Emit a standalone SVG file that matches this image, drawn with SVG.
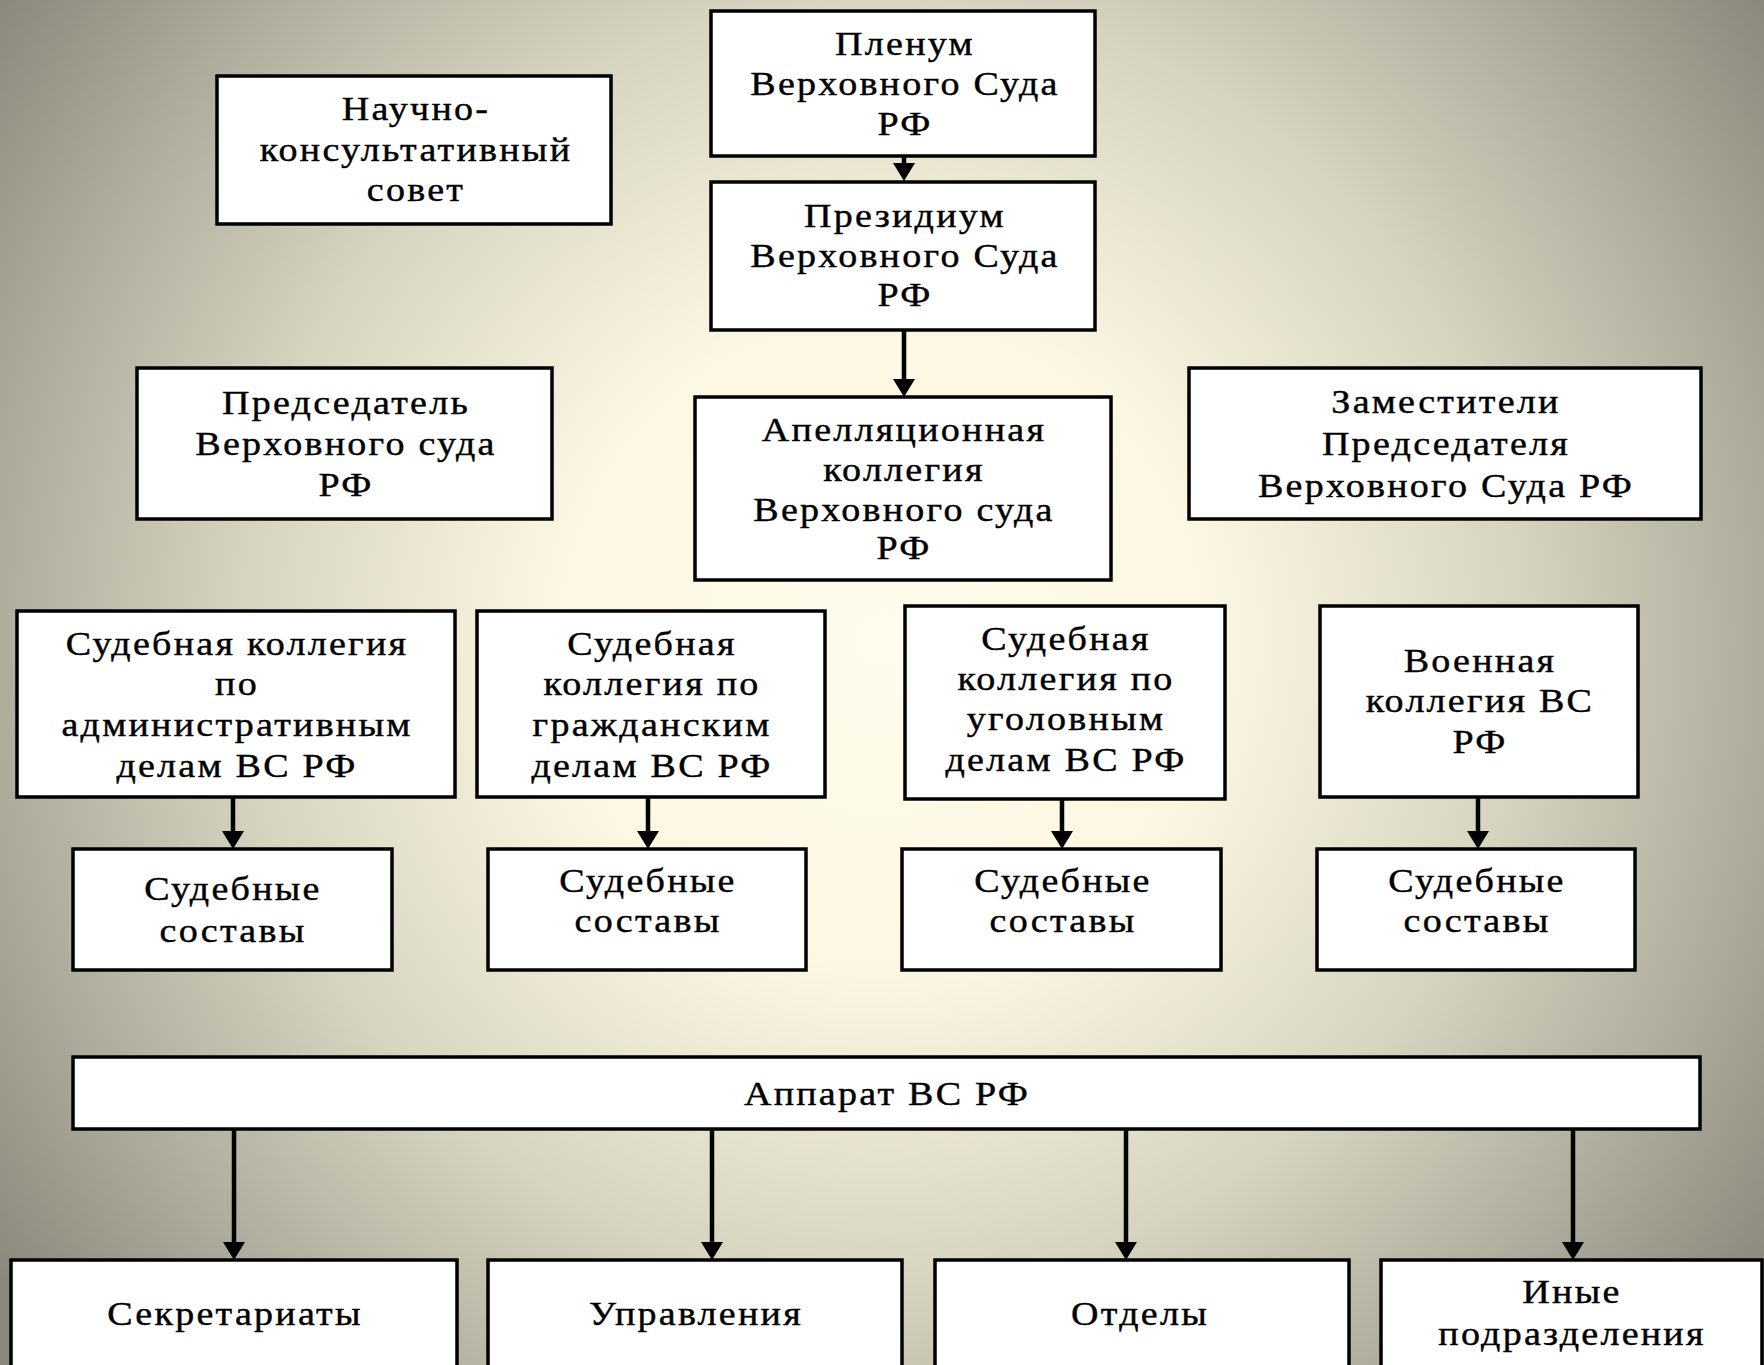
<svg xmlns="http://www.w3.org/2000/svg" width="1764" height="1365" viewBox="0 0 1764 1365">
<defs>
<radialGradient id="bg" gradientUnits="userSpaceOnUse" cx="882" cy="640" r="1090">
<stop offset="0" stop-color="#FFFCEC"/>
<stop offset="0.3" stop-color="#FBF7E2"/>
<stop offset="0.59" stop-color="#D6D3BF"/>
<stop offset="0.81" stop-color="#AEAC9C"/>
<stop offset="1" stop-color="#8A887A"/>
</radialGradient>
<marker id="arr" viewBox="0 0 18 22" refX="8" refY="11" markerWidth="18" markerHeight="22" markerUnits="userSpaceOnUse" orient="auto">
<path d="M0,0 L18,11 L0,22 z" fill="#000"/>
</marker>
</defs>
<style>
.box{fill:#fff;stroke:#000;stroke-width:3.5}
.sh{fill:none;stroke:#555;stroke-width:2;opacity:0.6}
.t{font-family:"Liberation Serif","Times New Roman",serif;font-size:34px;letter-spacing:2px;fill:#000;stroke:#000;stroke-width:0.4;text-anchor:middle}
.c{stroke:#000;stroke-width:4.5;fill:none;marker-end:url(#arr)}
</style>
<rect x="0" y="0" width="1764" height="1365" fill="url(#bg)"/>
<g id="connectors">
<line class="c" x1="904" y1="157" x2="904" y2="171"/>
<line class="c" x1="904" y1="330" x2="904" y2="387"/>
<line class="c" x1="233" y1="797" x2="233" y2="839"/>
<line class="c" x1="648" y1="797" x2="648" y2="839"/>
<line class="c" x1="1062" y1="800" x2="1062" y2="839"/>
<line class="c" x1="1478" y1="797" x2="1478" y2="839"/>
<line class="c" x1="234" y1="1129" x2="234" y2="1250"/>
<line class="c" x1="712" y1="1129" x2="712" y2="1250"/>
<line class="c" x1="1126" y1="1129" x2="1126" y2="1250"/>
<line class="c" x1="1573" y1="1129" x2="1573" y2="1250"/>
</g>
<g id="plenum"><rect class="box" x="711" y="11" width="384" height="145"/>
<g transform="translate(905 0) scale(1.12 1)"><text class="t" x="0" y="55">Пленум</text><text class="t" x="0" y="95">Верховного Суда</text><text class="t" x="0" y="135">РФ</text></g></g>
<g id="nauchno"><rect class="box" x="217" y="76" width="394" height="148"/>
<g transform="translate(416 0) scale(1.12 1)"><text class="t" x="0" y="120">Научно-</text><text class="t" x="0" y="161">консультативный</text><text class="t" x="0" y="201">совет</text></g></g>
<g id="prezidium"><rect class="box" x="711" y="182" width="384" height="148"/>
<g transform="translate(905 0) scale(1.12 1)"><text class="t" x="0" y="227">Президиум</text><text class="t" x="0" y="267">Верховного Суда</text><text class="t" x="0" y="306">РФ</text></g></g>
<g id="predsedatel"><rect class="box" x="137" y="368" width="415" height="151"/>
<g transform="translate(346 0) scale(1.12 1)"><text class="t" x="0" y="414">Председатель</text><text class="t" x="0" y="455">Верховного суда</text><text class="t" x="0" y="496">РФ</text></g></g>
<g id="apellyacionnaya"><rect class="box" x="695" y="397" width="416" height="183"/>
<g transform="translate(904 0) scale(1.12 1)"><text class="t" x="0" y="441">Апелляционная</text><text class="t" x="0" y="481">коллегия</text><text class="t" x="0" y="521">Верховного суда</text><text class="t" x="0" y="559">РФ</text></g></g>
<g id="zamestiteli"><rect class="box" x="1189" y="368" width="512" height="151"/>
<g transform="translate(1446 0) scale(1.12 1)"><text class="t" x="0" y="413">Заместители</text><text class="t" x="0" y="455">Председателя</text><text class="t" x="0" y="497">Верховного Суда РФ</text></g></g>
<g id="kollegiya-adm"><rect class="box" x="17" y="611" width="438" height="186"/>
<g transform="translate(237 0) scale(1.12 1)"><text class="t" x="0" y="655">Судебная коллегия</text><text class="t" x="0" y="695">по</text><text class="t" x="0" y="736">административным</text><text class="t" x="0" y="777">делам ВС РФ</text></g></g>
<g id="kollegiya-grazhd"><rect class="box" x="477" y="611" width="348" height="186"/>
<g transform="translate(652 0) scale(1.12 1)"><text class="t" x="0" y="655">Судебная</text><text class="t" x="0" y="695">коллегия по</text><text class="t" x="0" y="736">гражданским</text><text class="t" x="0" y="777">делам ВС РФ</text></g></g>
<g id="kollegiya-ugol"><rect class="box" x="905" y="606" width="320" height="193"/>
<g transform="translate(1066 0) scale(1.12 1)"><text class="t" x="0" y="650">Судебная</text><text class="t" x="0" y="690">коллегия по</text><text class="t" x="0" y="730">уголовным</text><text class="t" x="0" y="771">делам ВС РФ</text></g></g>
<g id="kollegiya-voen"><rect class="box" x="1320" y="606" width="318" height="191"/>
<g transform="translate(1480 0) scale(1.12 1)"><text class="t" x="0" y="672">Военная</text><text class="t" x="0" y="712">коллегия ВС</text><text class="t" x="0" y="753">РФ</text></g></g>
<g id="sostavy-1"><rect class="box" x="73" y="849" width="319" height="121"/>
<g transform="translate(233 0) scale(1.12 1)"><text class="t" x="0" y="900">Судебные</text><text class="t" x="0" y="942">составы</text></g></g>
<g id="sostavy-2"><rect class="box" x="488" y="849" width="318" height="121"/>
<g transform="translate(648 0) scale(1.12 1)"><text class="t" x="0" y="892">Судебные</text><text class="t" x="0" y="932">составы</text></g></g>
<g id="sostavy-3"><rect class="box" x="902" y="849" width="319" height="121"/>
<g transform="translate(1063 0) scale(1.12 1)"><text class="t" x="0" y="892">Судебные</text><text class="t" x="0" y="932">составы</text></g></g>
<g id="sostavy-4"><rect class="box" x="1317" y="849" width="318" height="121"/>
<g transform="translate(1477 0) scale(1.12 1)"><text class="t" x="0" y="892">Судебные</text><text class="t" x="0" y="932">составы</text></g></g>
<g id="apparat"><rect class="box" x="73" y="1057" width="1627" height="72"/>
<g transform="translate(887 0) scale(1.12 1)"><text class="t" x="0" y="1105">Аппарат ВС РФ</text></g></g>
<g id="sekretariaty"><rect class="box" x="11" y="1260" width="446" height="130"/>
<g transform="translate(235 0) scale(1.12 1)"><text class="t" x="0" y="1325">Секретариаты</text></g></g>
<g id="upravleniya"><rect class="box" x="488" y="1260" width="414" height="130"/>
<g transform="translate(696 0) scale(1.12 1)"><text class="t" x="0" y="1325">Управления</text></g></g>
<g id="otdely"><rect class="box" x="935" y="1260" width="414" height="130"/>
<g transform="translate(1140 0) scale(1.12 1)"><text class="t" x="0" y="1325">Отделы</text></g></g>
<g id="inye"><rect class="box" x="1381" y="1260" width="381" height="130"/>
<g transform="translate(1572 0) scale(1.12 1)"><text class="t" x="0" y="1303">Иные</text><text class="t" x="0" y="1345">подразделения</text></g></g>
</svg>
